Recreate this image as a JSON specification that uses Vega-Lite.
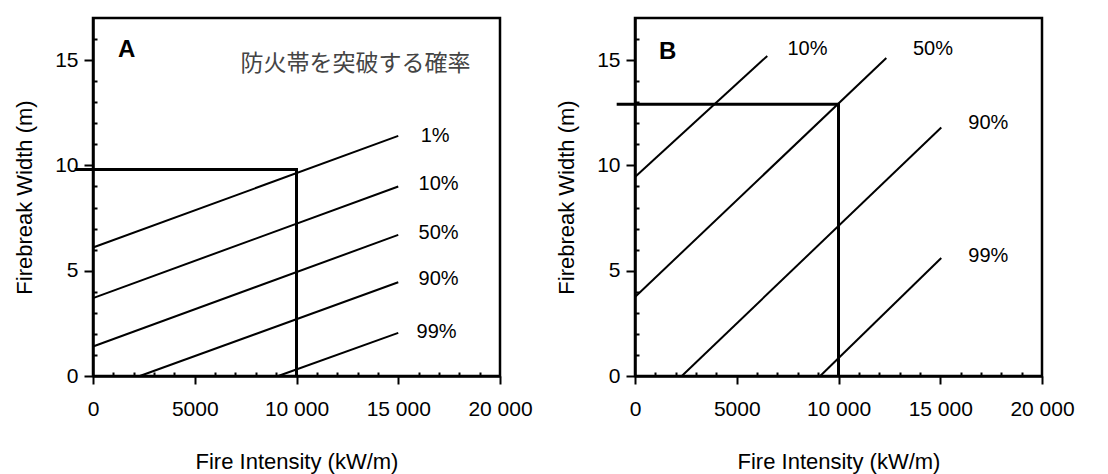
{
  "$schema": "https://vega.github.io/schema/vega-lite/v6.json",
  "background": "white",
  "padding": {"left": 12, "top": 16, "right": 5, "bottom": 2},
  "spacing": 20,
  "config": {
    "font": "Liberation Sans",
    "view": {"stroke": "#000", "strokeWidth": 2.5},
    "axis": {
      "labelFont": "Liberation Sans", "labelFontSize": 21, "labelColor": "#000",
      "titleFont": "Liberation Sans", "titleFontSize": 22, "titleFontWeight": "normal", "titleColor": "#000",
      "domainColor": "#000", "domainWidth": 2.5, "tickColor": "#000", "tickWidth": 2, "grid": false, "labelOverlap": false, "labelFlush": false
    }
  },
  "datasets": {
    "lines": [
      {"panel": "A", "series": "1%", "x": 0, "y": 6.1}, {"panel": "A", "series": "1%", "x": 15000, "y": 11.4},
      {"panel": "A", "series": "10%", "x": 0, "y": 3.7}, {"panel": "A", "series": "10%", "x": 15000, "y": 9.0},
      {"panel": "A", "series": "50%", "x": 0, "y": 1.4}, {"panel": "A", "series": "50%", "x": 15000, "y": 6.7},
      {"panel": "A", "series": "90%", "x": 2300, "y": 0}, {"panel": "A", "series": "90%", "x": 15000, "y": 4.45},
      {"panel": "A", "series": "99%", "x": 9100, "y": 0}, {"panel": "A", "series": "99%", "x": 15000, "y": 2.05},
      {"panel": "B", "series": "10%", "x": 0, "y": 9.45}, {"panel": "B", "series": "10%", "x": 6500, "y": 15.2},
      {"panel": "B", "series": "50%", "x": 0, "y": 3.75}, {"panel": "B", "series": "50%", "x": 12350, "y": 15.1},
      {"panel": "B", "series": "90%", "x": 2300, "y": 0}, {"panel": "B", "series": "90%", "x": 15050, "y": 11.8},
      {"panel": "B", "series": "99%", "x": 9100, "y": 0}, {"panel": "B", "series": "99%", "x": 15050, "y": 5.6}
    ],
    "refs": [
      {"panel": "A", "o": 1, "x": -900, "y": 9.8}, {"panel": "A", "o": 2, "x": 10000, "y": 9.8}, {"panel": "A", "o": 3, "x": 10000, "y": 0},
      {"panel": "B", "o": 1, "x": -900, "y": 12.9}, {"panel": "B", "o": 2, "x": 10000, "y": 12.9}, {"panel": "B", "o": 3, "x": 10000, "y": 0}
    ],
    "labels": [
      {"panel": "A", "text": "1%", "x": 16100, "y": 11.4},
      {"panel": "A", "text": "10%", "x": 16000, "y": 9.1},
      {"panel": "A", "text": "50%", "x": 16000, "y": 6.8},
      {"panel": "A", "text": "90%", "x": 16000, "y": 4.6},
      {"panel": "A", "text": "99%", "x": 15900, "y": 2.1},
      {"panel": "B", "text": "10%", "x": 7490, "y": 15.55},
      {"panel": "B", "text": "50%", "x": 13660, "y": 15.55},
      {"panel": "B", "text": "90%", "x": 16380, "y": 12.0},
      {"panel": "B", "text": "99%", "x": 16380, "y": 5.7}
    ],
    "letters": [
      {"panel": "A", "text": "A", "x": 1230, "y": 15.5},
      {"panel": "B", "text": "B", "x": 1185, "y": 15.4}
    ],
    "notes": [
      {"panel": "A", "text": "防火帯を突破する確率", "x": 12900, "y": 14.8}
    ]
  },
  "hconcat": [
    {
      "width": 407, "height": 358,
      "resolve": {"axis": {"x": "independent", "y": "independent"}},
      "layer": [
        {
          "data": {"name": "lines"},
          "transform": [{"filter": "datum.panel == 'A'"}],
          "mark": {"type": "line", "color": "#000", "strokeWidth": 2},
          "encoding": {
            "x": {"field": "x", "type": "quantitative", "scale": {"domain": [0, 20000], "nice": false},
              "title": "Fire Intensity (kW/m)",
              "axis": {"orient": "bottom", "values": [0, 5000, 10000, 15000, 20000],
                "labelExpr": "datum.value >= 10000 ? replace(format(datum.value, ','), ',', ' ') : format(datum.value, 'd')",
                "labelOverlap": false, "labelFlush": false, "tickSize": 8, "labelPadding": 14, "titlePadding": 32}},
            "y": {"field": "y", "type": "quantitative", "scale": {"domain": [0, 17], "nice": false},
              "title": "Firebreak Width (m)",
              "axis": {"orient": "left", "values": [0, 5, 10, 15],
                "labelOverlap": false, "labelFlush": false, "tickSize": 9, "labelPadding": 6, "titlePadding": 18}},
            "detail": {"field": "series"}
          }
        },
        {
          "data": {"name": "refs"},
          "transform": [{"filter": "datum.panel == 'A'"}],
          "mark": {"type": "line", "color": "#000", "strokeWidth": 3},
          "encoding": {
            "x": {"field": "x", "type": "quantitative",
              "axis": {"orient": "bottom", "values": [1000,2000,3000,4000,6000,7000,8000,9000,11000,12000,13000,14000,16000,17000,18000,19000],
                "labels": false, "domain": false, "tickSize": -4, "title": null}},
            "y": {"field": "y", "type": "quantitative",
              "axis": {"orient": "left", "values": [1,2,3,4,6,7,8,9,11,12,13,14,16],
                "labels": false, "domain": false, "tickSize": -4, "title": null}},
            "order": {"field": "o"}
          }
        },
        {
          "data": {"name": "labels"},
          "transform": [{"filter": "datum.panel == 'A'"}],
          "mark": {"type": "text", "align": "left", "baseline": "middle", "fontSize": 20, "color": "#000"},
          "encoding": {
            "x": {"field": "x", "type": "quantitative", "axis": null},
            "y": {"field": "y", "type": "quantitative", "axis": null},
            "text": {"field": "text"}
          }
        },
        {
          "data": {"name": "letters"},
          "transform": [{"filter": "datum.panel == 'A'"}],
          "mark": {"type": "text", "align": "left", "baseline": "middle", "fontSize": 24, "fontWeight": "bold", "color": "#000"},
          "encoding": {
            "x": {"field": "x", "type": "quantitative", "axis": null},
            "y": {"field": "y", "type": "quantitative", "axis": null},
            "text": {"field": "text"}
          }
        },
        {
          "data": {"name": "notes"},
          "transform": [{"filter": "datum.panel == 'A'"}],
          "mark": {"type": "text", "align": "center", "baseline": "middle", "fontSize": 23, "font": "Noto Sans CJK JP", "color": "#444"},
          "encoding": {
            "x": {"field": "x", "type": "quantitative", "axis": null},
            "y": {"field": "y", "type": "quantitative", "axis": null},
            "text": {"field": "text"}
          }
        }
      ]
    },
    {
      "width": 407, "height": 358,
      "resolve": {"axis": {"x": "independent", "y": "independent"}},
      "layer": [
        {
          "data": {"name": "lines"},
          "transform": [{"filter": "datum.panel == 'B'"}],
          "mark": {"type": "line", "color": "#000", "strokeWidth": 2},
          "encoding": {
            "x": {"field": "x", "type": "quantitative", "scale": {"domain": [0, 20000], "nice": false},
              "title": "Fire Intensity (kW/m)",
              "axis": {"orient": "bottom", "values": [0, 5000, 10000, 15000, 20000],
                "labelExpr": "datum.value >= 10000 ? replace(format(datum.value, ','), ',', ' ') : format(datum.value, 'd')",
                "labelOverlap": false, "labelFlush": false, "tickSize": 8, "labelPadding": 14, "titlePadding": 32}},
            "y": {"field": "y", "type": "quantitative", "scale": {"domain": [0, 17], "nice": false},
              "title": "Firebreak Width (m)",
              "axis": {"orient": "left", "values": [0, 5, 10, 15],
                "labelOverlap": false, "labelFlush": false, "tickSize": 9, "labelPadding": 6, "titlePadding": 18}},
            "detail": {"field": "series"}
          }
        },
        {
          "data": {"name": "refs"},
          "transform": [{"filter": "datum.panel == 'B'"}],
          "mark": {"type": "line", "color": "#000", "strokeWidth": 3},
          "encoding": {
            "x": {"field": "x", "type": "quantitative",
              "axis": {"orient": "bottom", "values": [1000,2000,3000,4000,6000,7000,8000,9000,11000,12000,13000,14000,16000,17000,18000,19000],
                "labels": false, "domain": false, "tickSize": -4, "title": null}},
            "y": {"field": "y", "type": "quantitative",
              "axis": {"orient": "left", "values": [1,2,3,4,6,7,8,9,11,12,13,14,16],
                "labels": false, "domain": false, "tickSize": -4, "title": null}},
            "order": {"field": "o"}
          }
        },
        {
          "data": {"name": "labels"},
          "transform": [{"filter": "datum.panel == 'B'"}],
          "mark": {"type": "text", "align": "left", "baseline": "middle", "fontSize": 20, "color": "#000"},
          "encoding": {
            "x": {"field": "x", "type": "quantitative", "axis": null},
            "y": {"field": "y", "type": "quantitative", "axis": null},
            "text": {"field": "text"}
          }
        },
        {
          "data": {"name": "letters"},
          "transform": [{"filter": "datum.panel == 'B'"}],
          "mark": {"type": "text", "align": "left", "baseline": "middle", "fontSize": 24, "fontWeight": "bold", "color": "#000"},
          "encoding": {
            "x": {"field": "x", "type": "quantitative", "axis": null},
            "y": {"field": "y", "type": "quantitative", "axis": null},
            "text": {"field": "text"}
          }
        }
      ]
    }
  ]
}
